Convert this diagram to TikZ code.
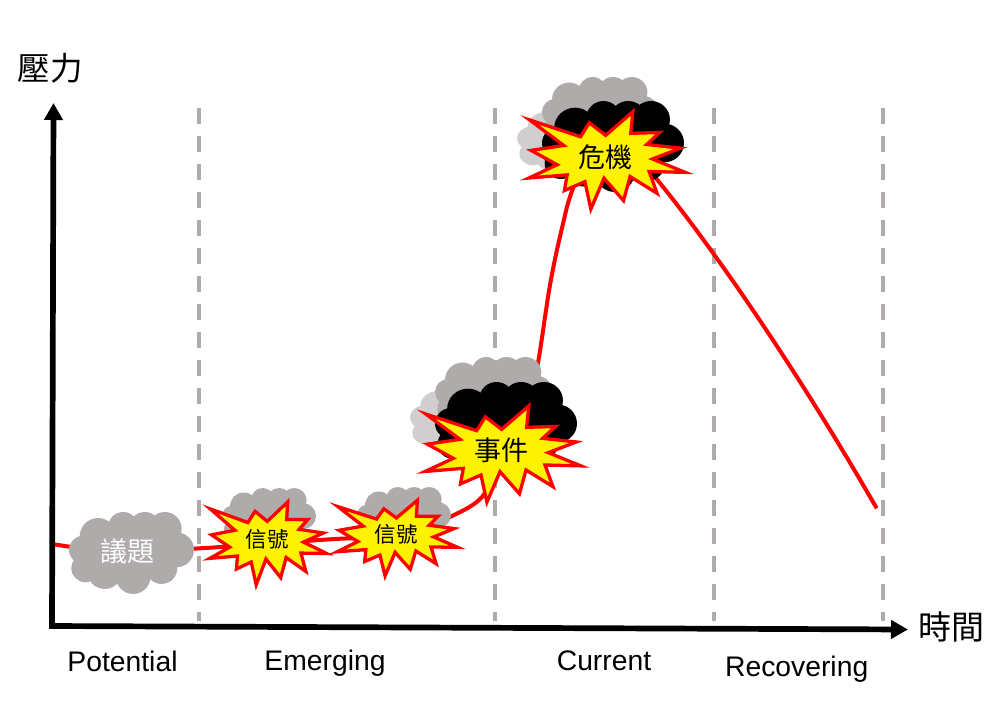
\documentclass[tikz,border=0pt]{standalone}
\usepackage{fontspec}
\setmainfont{Liberation Sans}
\newfontfamily\cjkfont{Noto Sans CJK TC}
\usetikzlibrary{arrows.meta,calc}
\definecolor{cloudgrey}{HTML}{AFABAB}
\definecolor{cloudlight}{HTML}{D0CECE}
\definecolor{dashgrey}{HTML}{AFABAB}
\tikzset{
  axisline/.style={line width=5.7pt,black,-{Triangle[length=17pt,width=18pt]}},
  phaseline/.style={line width=4pt,dashgrey,dash pattern=on 16pt off 12pt},
  pressure/.style={line width=4pt,red,line join=round},
  burstshape/.style={fill=yellow,draw=red,line width=3.3pt,line join=miter,miter limit=20},
  cjktext/.style={font=\cjkfont\fontsize{#1}{#1}\selectfont,inner sep=0pt},
  phasetext/.style={font=\fontsize{28.3}{28.3}\selectfont,inner sep=0pt,anchor=base}
}
% cloud: x0 y0 x1 y1 colour
\newcommand{\cloudat}[5]{%
  \pgfmathsetmacro{\csx}{(#3-#1)/374}%
  \pgfmathsetmacro{\csy}{(#4-#2)/245}%
  \pgfmathsetmacro{\cox}{#1-88*\csx}%
  \pgfmathsetmacro{\coy}{#2-97*\csy}%
  \begin{scope}[shift={(\cox,\coy)},xscale=\csx,yscale=\csy]
    \fill[#5] (270,215) ellipse [x radius=150,y radius=90]
      (175,170) circle [radius=55]
      (250,142) circle [radius=45]
      (315,145) circle [radius=48]
      (375,147) circle [radius=50]
      (410,210) circle [radius=52]
      (365,265) circle [radius=47]
      (280,290) circle [radius=52]
      (195,275) circle [radius=52]
      (137,265) circle [radius=42]
      (130,210) circle [radius=42];
  \end{scope}}
% burst: x0 y0 x1 y1 (outer bounding box of the tips), tip pull factor
\newcommand{\burstat}[5]{%
  \pgfmathsetmacro{\bsx}{(#3-#1)/502}%
  \pgfmathsetmacro{\bsy}{(#4-#2)/310}%
  \pgfmathsetmacro{\bux}{#1-58*\bsx}%
  \pgfmathsetmacro{\buy}{#2-187*\bsy}%
  \def\tf{#5}%
  \begin{scope}[shift={(\bux,\buy)},xscale=\bsx,yscale=\bsy]
    \draw[burstshape] ($(310,345)!\tf!(60,213)$) -- (230,272) -- ($(310,345)!\tf!(252,222)$) -- (305,268) -- ($(310,345)!\tf!(392,187)$)
      -- (380,262) -- ($(310,345)!\tf!(478,253)$) -- (428,295) -- ($(310,345)!\tf!(545,303)$) -- (445,338)
      -- ($(310,345)!\tf!(560,380)$) -- (435,375) -- ($(310,345)!\tf!(470,447)$) -- (378,390) -- ($(310,345)!\tf!(362,470)$)
      -- (300,395) -- ($(310,345)!\tf!(257,497)$) -- (243,405) -- ($(310,345)!\tf!(172,438)$) -- (190,385)
      -- ($(310,345)!\tf!(58,398)$) -- (160,355) -- ($(310,345)!\tf!(65,310)$) -- (180,298) -- cycle;
  \end{scope}}
\begin{document}
\begin{tikzpicture}[x=1pt,y=-1pt]
\useasboundingbox (0,0) rectangle (997,721);
% phase separators
\coordinate (p1t) at (199,108); \coordinate (p1b) at (199,621);
\coordinate (p2t) at (495,108); \coordinate (p2b) at (495,621);
\coordinate (p3t) at (714,108); \coordinate (p3b) at (714,621);
\coordinate (p4t) at (883,108); \coordinate (p4b) at (883,621);
\draw[phaseline] (p1t) -- (p1b);
\draw[phaseline] (p2t) -- (p2b);
\draw[phaseline] (p3t) -- (p3b);
\draw[phaseline] (p4t) -- (p4b);
% pressure curve
\coordinate (c0) at (52,544);
\coordinate (c1) at (120,552);
\coordinate (c2) at (205,548);
\coordinate (c3) at (335,539);
\coordinate (c4) at (400,536);
\coordinate (c5) at (452,516);
\coordinate (c6) at (482,497);
\coordinate (c7) at (496,466);
\coordinate (c7b) at (526,420);
\coordinate (c8) at (538,363);
\coordinate (c9) at (550,285);
\coordinate (c10) at (562,228);
\coordinate (c11) at (574,186);
\coordinate (c12) at (605,125);
\coordinate (c13) at (640,157);
\coordinate (c14) at (655,177);
\coordinate (ca) at (715,250);
\coordinate (cb) at (800,375);
\coordinate (c22) at (876.7,508.3);
\draw[pressure] plot[smooth,tension=.55] coordinates {(c0) (c1) (c2) (c3) (c4) (c5) (c6) (c7) (c7b) (c8) (c9) (c10) (c11) (c12) (c13) (c14)};
\draw[pressure] (c14) .. controls (ca) and (cb) .. (c22);
% issue cloud
\cloudat{69}{512}{194}{594}{cloudgrey}
% signal clouds and bursts
\cloudat{222}{488}{316}{549}{cloudgrey}
\cloudat{357}{487}{451}{548}{cloudgrey}
\burstat{203.3}{497.3}{333.3}{589.3}{0.90}
\burstat{330.7}{496}{464.3}{580}{0.90}
% event
\cloudat{410}{386}{530}{454}{cloudlight}
\cloudat{435}{357}{553}{433}{cloudgrey}
\cloudat{435}{382}{577}{472}{black}
\burstat{419.3}{402.3}{586.7}{505.7}{0.93}
% crisis
\cloudat{517}{107}{640}{175}{cloudlight}
\cloudat{542}{77}{659}{153}{cloudgrey}
\cloudat{542}{101}{684}{192}{black}
\burstat{523}{108}{691}{212.7}{0.93}
% axes
\coordinate (origin) at (52,628.5);
\coordinate (ytip) at (53.5,103);
\coordinate (xtip) at (908,629.5);
\coordinate (xstart) at (49.3,626);
\draw[axisline] (origin) -- (ytip);
\draw[axisline] (xstart) -- (xtip);
% texts
\node[cjktext=32.5] (ylab) at (50,68) {壓力};
\node[cjktext=33] (xlab) at (951.7,627) {時間};
\node[cjktext=27,white] (issue) at (127,551) {議題};
\node[cjktext=21.5] (sig1) at (267,539) {信號};
\node[cjktext=21.5] (sig2) at (396,534) {信號};
\node[cjktext=27] (event) at (501,450) {事件};
\node[cjktext=27] (crisis) at (605,157) {危機};
\node[phasetext] (ph1) at (122.5,671.7) {Potential};
\node[phasetext] (ph2) at (325,670.7) {Emerging};
\node[phasetext] (ph3) at (604,670.7) {Current};
\node[phasetext] (ph4) at (796.7,676) {Recovering};
\end{tikzpicture}
\end{document}
